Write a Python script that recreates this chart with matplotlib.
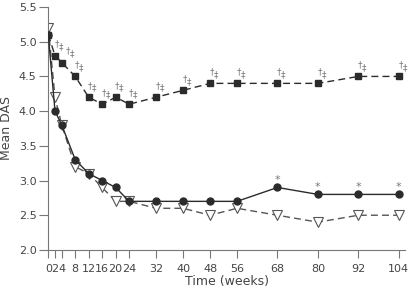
import matplotlib
matplotlib.use("Agg")
import matplotlib.pyplot as plt

# Time points (weeks) and mean DAS for the three groups
weeks = [0, 2, 4, 8, 12, 16, 20, 24, 32, 40, 48, 56, 68, 80, 92, 104]
squares = [5.1, 4.8, 4.7, 4.5, 4.2, 4.1, 4.2, 4.1, 4.2, 4.3, 4.4, 4.4, 4.4, 4.4, 4.5, 4.5]
circles = [5.1, 4.0, 3.8, 3.3, 3.1, 3.0, 2.9, 2.7, 2.7, 2.7, 2.7, 2.7, 2.9, 2.8, 2.8, 2.8]
triangles = [5.2, 4.2, 3.8, 3.2, 3.1, 2.9, 2.7, 2.7, 2.6, 2.6, 2.5, 2.6, 2.5, 2.4, 2.5, 2.5]
star_weeks = [68, 80, 92, 104]

fig = plt.figure(figsize=(4.09, 2.93), dpi=100)
ax = fig.add_axes([0.118, 0.147, 0.872, 0.829])

dark = "#2b2b2b"
grey = "#555555"

ax.plot(weeks, triangles, linestyle=(0, (5, 3)), color=grey, lw=1.0,
        marker="v", ms=7, mfc="white", mec=grey, mew=0.8, zorder=2)
ax.plot(weeks, circles, linestyle="-", color=dark, lw=1.0,
        marker="o", ms=5, mfc=dark, mec=dark, zorder=3)
ax.plot(weeks, squares, linestyle=(0, (5, 3)), color=dark, lw=1.0,
        marker="s", ms=5, mfc=dark, mec=dark, zorder=3)

# significance marks (the crowded early ones are nudged right)
for w, v in zip(weeks[1:], squares[1:]):
    dx = 1.4 if w == 4 else 0.0
    ax.text(w + 0.5 + dx, v + 0.17, "\u2020", color="#777777", fontsize=6.5,
            ha="center", va="center")
    ax.text(w + 1.7 + dx, v + 0.13, "\u2021", color="#777777", fontsize=6.5,
            ha="center", va="center")
for w in star_weeks:
    v = circles[weeks.index(w)]
    ax.text(w, v + 0.11, "*", color="#777777", fontsize=8,
            ha="center", va="center")

ax.set_xlim(0, 105.8)
ax.set_ylim(2.0, 5.5)
ax.set_xticks(weeks)
ax.set_xticklabels([str(w) for w in weeks])
ax.set_yticks([2.0, 2.5, 3.0, 3.5, 4.0, 4.5, 5.0, 5.5])
ax.set_yticklabels(["2.0", "2.5", "3.0", "3.5", "4.0", "4.5", "5.0", "5.5"])

for side in ["top", "right"]:
    ax.spines[side].set_visible(False)
for side in ["left", "bottom"]:
    ax.spines[side].set_color("#777777")
    ax.spines[side].set_linewidth(0.8)
ax.tick_params(axis="both", colors="#777777", labelcolor="#444444",
               labelsize=8, width=0.8)
ax.tick_params(axis="y", length=6.5, pad=2)
ax.tick_params(axis="x", length=6, pad=4)

ax.set_xlabel("Time (weeks)", fontsize=9, color="#444444", labelpad=1)
ax.set_ylabel("Mean DAS", fontsize=9, color="#444444", labelpad=4)

fig.savefig("out.png", dpi=100)
